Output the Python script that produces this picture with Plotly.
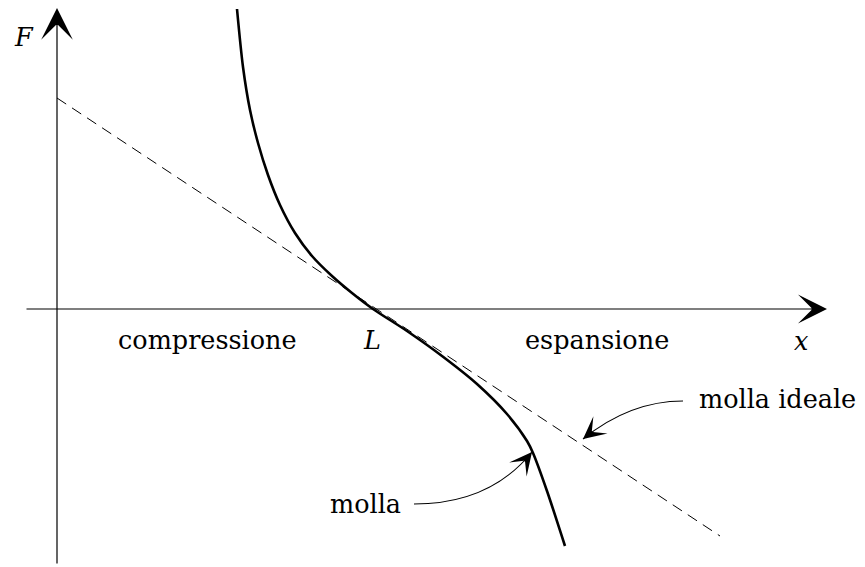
import plotly.graph_objects as go

# ---- data (units: 1 = 100 px of the reference drawing, origin at axes crossing) ----
SPRING_X = [1.80, 1.86, 1.93, 2.01, 2.11, 2.23, 2.38, 2.55, 2.75, 2.95, 3.16,
            3.50, 3.85, 4.20, 4.50, 4.70, 4.76, 4.90, 5.08]
SPRING_F = [3.00, 2.42, 1.99, 1.66, 1.34, 1.04, 0.76, 0.53, 0.33, 0.16, 0.00,
            -0.22, -0.47, -0.75, -1.05, -1.32, -1.44, -1.82, -2.37]
IDEAL_X = [0.0, 6.63]
IDEAL_F = [2.11, -2.27]

X_AXIS_FROM, X_AXIS_TO = -0.32, 7.70
F_AXIS_FROM, F_AXIS_TO = -2.56, 3.01

LABELS = ["compressione", "L", "espansione", "x", "F"]
LABEL_X = [1.50, 3.15, 5.40, 7.44, -0.33]
LABEL_F = [-0.31, -0.31, -0.31, -0.32, 2.72]

# curved pointer arrows: start, control, tip
POINTERS = {
    "molla ideale": {"text_xy": (7.20, -0.90), "start": (6.26, -0.92), "ctrl": (5.73, -0.92), "tip": (5.26, -1.30)},
    "molla": {"text_xy": (3.08, -1.95), "start": (3.57, -1.95), "ctrl": (4.33, -1.95), "tip": (4.75, -1.43)},
}

FONT = "DejaVu Serif"
FS = 25.5

fig = go.Figure()
fig.add_trace(go.Scatter(x=IDEAL_X, y=IDEAL_F, mode="lines",
                         line=dict(color="black", width=1, dash="11px,7px"), hoverinfo="skip"))
fig.add_trace(go.Scatter(x=SPRING_X, y=SPRING_F, mode="lines",
                         line=dict(color="black", width=2.6, shape="spline", smoothing=0.8), hoverinfo="skip"))

annotations = []
# axes drawn as arrows
annotations.append(dict(x=X_AXIS_TO, y=0, ax=X_AXIS_FROM, ay=0, xref="x", yref="y", axref="x", ayref="y",
                        text="", showarrow=True, arrowhead=3, arrowsize=4.4, arrowwidth=1.1, arrowcolor="black", standoff=0))
annotations.append(dict(x=0, y=F_AXIS_TO, ax=0, ay=F_AXIS_FROM, xref="x", yref="y", axref="x", ayref="y",
                        text="", showarrow=True, arrowhead=3, arrowsize=4.4, arrowwidth=1.2, arrowcolor="black", standoff=0))

for lab, lx, ly in zip(LABELS, LABEL_X, LABEL_F):
    txt = f"<i>{lab}</i>" if lab in ("L", "x", "F") else lab
    annotations.append(dict(x=lx, y=ly, xref="x", yref="y", text=txt, showarrow=False,
                            font=dict(family=FONT, size=FS, color="black"), xanchor="center", yanchor="middle"))

shapes = []
for lab, p in POINTERS.items():
    (sx, sy), (cx, cy), (tx, ty) = p["start"], p["ctrl"], p["tip"]
    shapes.append(dict(type="path", xref="x", yref="y",
                       path=f"M {sx},{sy} Q {cx},{cy} {tx},{ty}",
                       line=dict(color="black", width=1.1)))
    dx, dy = tx - cx, ty - cy
    n = (dx * dx + dy * dy) ** 0.5
    annotations.append(dict(x=tx, y=ty, ax=tx - 0.1 * dx / n, ay=ty - 0.1 * dy / n,
                            xref="x", yref="y", axref="x", ayref="y", text="", showarrow=True,
                            arrowhead=3, arrowsize=3.4, arrowwidth=1.1, arrowcolor="black", standoff=0))
    annotations.append(dict(x=p["text_xy"][0], y=p["text_xy"][1], xref="x", yref="y", text=lab,
                            showarrow=False, font=dict(family=FONT, size=FS, color="black"),
                            xanchor="center", yanchor="middle"))

fig.update_layout(
    width=865, height=567, margin=dict(l=0, r=0, t=0, b=0),
    paper_bgcolor="white", plot_bgcolor="white", showlegend=False,
    xaxis=dict(range=[-0.57, 8.08], visible=False, fixedrange=True),
    yaxis=dict(range=[-2.58, 3.09], visible=False, fixedrange=True),
    annotations=annotations, shapes=shapes,
)

fig.write_html("out.html", config={"displayModeBar": False, "staticPlot": True},
               post_script="document.body.style.margin='0';")
